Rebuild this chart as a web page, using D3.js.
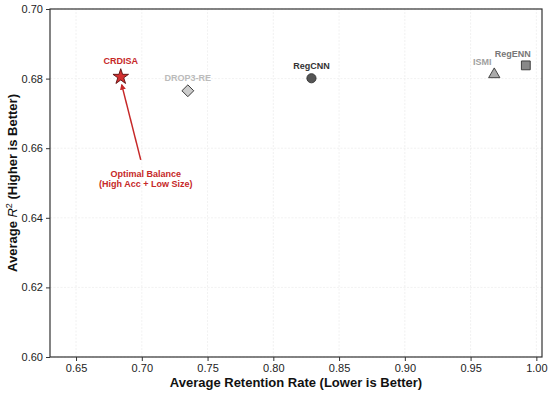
<!DOCTYPE html>
<html>
<head>
<meta charset="utf-8">
<script src="https://cdn.jsdelivr.net/npm/d3@7"></script>
<style>
  body { margin: 0; background: #fff; }
  text { font-family: "Liberation Sans", Arial, sans-serif; }
</style>
</head>
<body>
<svg id="chart"></svg>
<script>
var methods = ['CRDISA', 'DROP3-RE', 'RegCNN', 'ISMI', 'RegENN'];
var retention = [0.684, 0.735, 0.829, 0.968, 0.992];
var avgR2 = [0.6805, 0.6765, 0.6801, 0.6812, 0.6838];
var shapes = ['star', 'diamond', 'circle', 'triangle', 'square'];
var fills = ['#d32f2f', '#cccccc', '#555555', '#aaaaaa', '#888888'];
var labelColors = ['#c62828', '#bbbbbb', '#333333', '#a0a0a0', '#777777'];

var xTicks = [0.65, 0.70, 0.75, 0.80, 0.85, 0.90, 0.95, 1.00];
var yTicks = [0.60, 0.62, 0.64, 0.66, 0.68, 0.70];

var width = 550,
  height = 393;
var margin = { top: 9, right: 8, bottom: 36, left: 50 };

var svg = d3.select('#chart')
  .attr('width', width)
  .attr('height', height);

var x = d3.scaleLinear()
  .domain([0.6302, 1.0043])
  .range([margin.left, width - margin.right]);

var y = d3.scaleLinear()
  .domain([0.60, 0.70])
  .range([height - margin.bottom, margin.top]);

// grid
svg.append('g')
  .selectAll('line')
  .data(xTicks)
  .enter().append('line')
  .attr('x1', function(d) { return x(d); })
  .attr('x2', function(d) { return x(d); })
  .attr('y1', y.range()[0])
  .attr('y2', y.range()[1])
  .attr('stroke', '#e8e8e8')
  .attr('stroke-width', 0.6)
  .attr('stroke-dasharray', '2,1.5');

svg.append('g')
  .selectAll('line')
  .data(yTicks)
  .enter().append('line')
  .attr('y1', function(d) { return y(d); })
  .attr('y2', function(d) { return y(d); })
  .attr('x1', x.range()[0])
  .attr('x2', x.range()[1])
  .attr('stroke', '#e8e8e8')
  .attr('stroke-width', 0.6)
  .attr('stroke-dasharray', '2,1.5');

// axes
var xAxis = svg.append('g')
  .attr('transform', 'translate(0,' + y.range()[0] + ')')
  .call(d3.axisBottom(x)
    .tickValues(xTicks)
    .tickFormat(d3.format('.2f'))
    .tickSize(4)
    .tickPadding(3));

var yAxis = svg.append('g')
  .attr('transform', 'translate(' + x.range()[0] + ',0)')
  .call(d3.axisLeft(y)
    .tickValues(yTicks)
    .tickFormat(d3.format('.2f'))
    .tickSize(4)
    .tickPadding(3));

[xAxis, yAxis].forEach(function(a) {
  a.select('.domain').remove();
  a.selectAll('.tick line').attr('stroke', '#333');
  a.selectAll('.tick text')
    .attr('fill', '#222')
    .style('font-size', '11px')
    .style('font-family', '"Liberation Sans", Arial, sans-serif');
});

// frame
svg.append('rect')
  .attr('x', x.range()[0])
  .attr('y', y.range()[1])
  .attr('width', x.range()[1] - x.range()[0])
  .attr('height', y.range()[0] - y.range()[1])
  .attr('fill', 'none')
  .attr('stroke', '#333')
  .attr('stroke-width', 1.2);

// axis titles
svg.append('text')
  .attr('x', (x.range()[0] + x.range()[1]) / 2)
  .attr('y', 387)
  .attr('text-anchor', 'middle')
  .attr('font-size', 13)
  .attr('font-weight', 'bold')
  .attr('fill', '#111')
  .text('Average Retention Rate (Lower is Better)');

var yt = svg.append('text')
  .attr('transform', 'translate(17,' + ((y.range()[0] + y.range()[1]) / 2) + ') rotate(-90)')
  .attr('text-anchor', 'middle')
  .attr('font-size', 13)
  .attr('font-weight', 'bold')
  .attr('fill', '#111');
yt.append('tspan').text('Average ');
yt.append('tspan').attr('font-style', 'italic').attr('font-weight', 'normal').text('R');
yt.append('tspan').attr('font-size', 9).attr('font-weight', 'normal').attr('dy', -5).text('2');
yt.append('tspan').attr('dy', 5).text(' (Higher is Better)');

// markers
var symbolTypes = {
  star: d3.symbolStar,
  diamond: d3.symbolSquare,
  circle: d3.symbolCircle,
  triangle: d3.symbolTriangle,
  square: d3.symbolSquare
};
var symbolSizes = { star: 75, diamond: 70, circle: 66, triangle: 55, square: 78 };

svg.append('g')
  .selectAll('path')
  .data(d3.range(methods.length))
  .enter().append('path')
  .attr('d', function(i) {
    return d3.symbol().type(symbolTypes[shapes[i]]).size(symbolSizes[shapes[i]])();
  })
  .attr('transform', function(i) {
    return 'translate(' + x(retention[i]) + ',' + y(avgR2[i]) + ')' +
      (shapes[i] === 'diamond' ? ' rotate(45)' : '');
  })
  .attr('fill', function(i) { return fills[i]; })
  .attr('stroke', function(i) { return i === 0 ? '#5a0f0f' : '#333'; })
  .attr('stroke-width', 0.9);

// point labels
var labelOffsets = [[0, -12.5], [0, -10], [0, -9.5], [-12, -9], [-13, -8]];
svg.append('g')
  .selectAll('text')
  .data(d3.range(methods.length))
  .enter().append('text')
  .attr('x', function(i) { return x(retention[i]) + labelOffsets[i][0]; })
  .attr('y', function(i) { return y(avgR2[i]) + labelOffsets[i][1]; })
  .attr('text-anchor', 'middle')
  .attr('font-size', 9)
  .attr('font-weight', 'bold')
  .attr('fill', function(i) { return labelColors[i]; })
  .text(function(i) { return methods[i]; });

// annotation
var tipX = x(retention[0]) + 1, tipY = y(avgR2[0]) + 8;
var tailX = tipX + 19, tailY = tipY + 75;

svg.append('defs').append('marker')
  .attr('id', 'arrow')
  .attr('viewBox', '0 0 10 10')
  .attr('refX', 8)
  .attr('refY', 5)
  .attr('markerWidth', 4)
  .attr('markerHeight', 4)
  .attr('orient', 'auto')
  .append('path')
  .attr('d', 'M0,0 L10,5 L0,10 z')
  .attr('fill', '#c62828');

svg.append('line')
  .attr('x1', tailX)
  .attr('y1', tailY)
  .attr('x2', tipX)
  .attr('y2', tipY)
  .attr('stroke', '#c62828')
  .attr('stroke-width', 1.5)
  .attr('marker-end', 'url(#arrow)');

var note = svg.append('text')
  .attr('text-anchor', 'middle')
  .attr('font-size', 9)
  .attr('font-weight', 'bold')
  .attr('fill', '#c62828');
note.append('tspan').attr('x', tailX + 5).attr('y', tailY + 17).text('Optimal Balance');
note.append('tspan').attr('x', tailX + 5).attr('y', tailY + 27).text('(High Acc + Low Size)');
</script>
</body>
</html>
